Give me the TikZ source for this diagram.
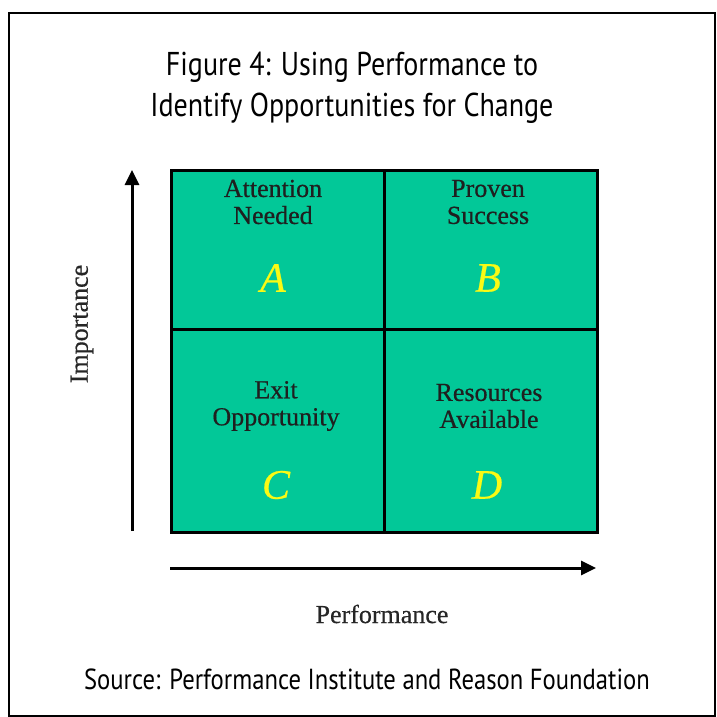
\documentclass[tikz,border=0pt]{standalone}
\usepackage{fontspec}
\usetikzlibrary{arrows.meta}
\newfontfamily\titlefont[FakeStretch=0.85]{PT Sans}
\newfontfamily\sourcefont[FakeStretch=0.85]{PT Sans}
\newfontfamily\labelfont[FakeBold=0.5]{Liberation Serif}
\definecolor{quadgreen}{RGB}{2,200,152}
\definecolor{letteryellow}{RGB}{250,250,20}
\tikzset{
  quad/.style={rectangle, draw=black, line width=3pt, fill=quadgreen, anchor=north west, inner sep=0pt, minimum width=213pt},
  quadtext/.style={font=\labelfont\fontsize{26}{27}\selectfont, align=center, text=black!88},
  quadletter/.style={font=\labelfont\itshape\fontsize{42}{42}\selectfont, text=letteryellow},
  axislabel/.style={font=\labelfont\fontsize{26}{27}\selectfont, text=black!85},
  caption/.style={font=\titlefont\fontsize{33}{41}\selectfont, align=center},
  axis/.style={line width=3pt, -{Triangle[length=15pt, width=14pt]}},
}
\begin{document}
\begin{tikzpicture}[x=1pt, y=-1pt]
    \useasboundingbox (0,0) rectangle (717,717);
    \draw[line width=2pt] (9,13) rectangle (715,716);

    %nodes
    \node[caption] (title) at (352,88) {Figure 4: Using Performance to\\Identify Opportunities for Change};
    \node[quad, minimum height=159pt] (qa) at (170,169) {};
    \node[quad, minimum height=159pt] (qb) at (383,169) {};
    \node[quad, minimum height=203pt] (qc) at (170,328) {};
    \node[quad, minimum height=203pt] (qd) at (383,328) {};
    \node[quadtext] (ta) at (273,202) {Attention\\Needed};
    \node[quadtext] (tb) at (488,202) {Proven\\Success};
    \node[quadtext] (tc) at (276,406) {Exit\\Opportunity};
    \node[quadtext] (td) at (489,406) {Resources\\Available};
    \node[quadletter] (la) at (273,278) {A};
    \node[quadletter] (lb) at (488,278) {B};
    \node[quadletter] (lc) at (276,485) {C};
    \node[quadletter] (ld) at (487,485) {D};
    \node[axislabel, rotate=90] (imp) at (82,324) {Importance};
    \node[axislabel] (perf) at (382,614) {Performance};
    \node[font=\sourcefont\fontsize{29}{33}\selectfont] (source) at (367,679) {Source: Performance Institute and Reason Foundation};

    %axes
    \coordinate (ybot) at (132,531);
    \coordinate (ytop) at (132,170);
    \coordinate (xleft) at (170,568);
    \coordinate (xright) at (596,568);
    \draw[axis] (ybot) -- (ytop);
    \draw[axis] (xleft) -- (xright);
\end{tikzpicture}
\end{document}
